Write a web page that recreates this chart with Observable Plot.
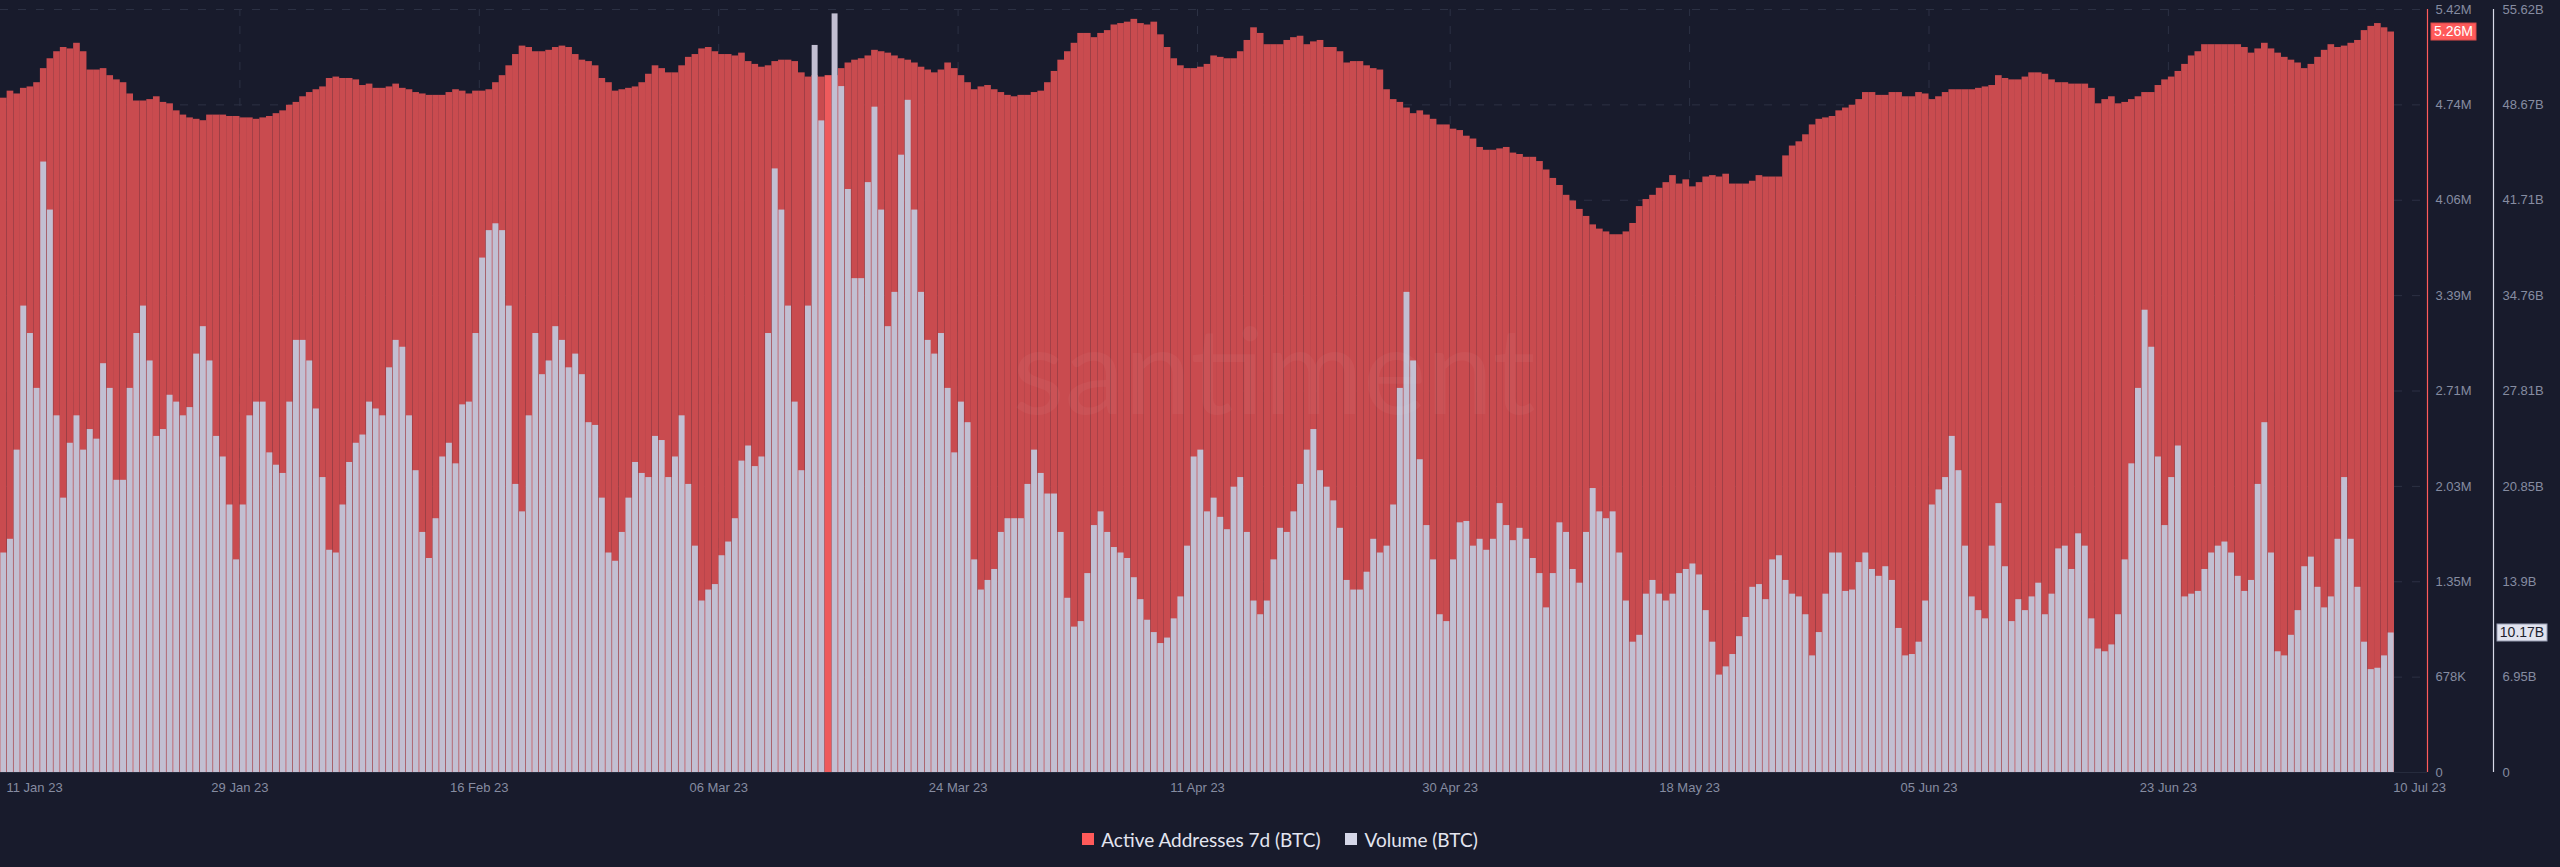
<!DOCTYPE html>
<html><head><meta charset="utf-8">
<script src="https://cdn.jsdelivr.net/npm/d3@7"></script>
<script src="https://cdn.jsdelivr.net/npm/@observablehq/plot@0.6"></script>
<style>
html,body{margin:0;padding:0;background:#181b2c;width:2560px;height:867px;overflow:hidden}
#chart svg{display:block}
#legend{display:flex;justify-content:center;align-items:center;margin-top:28px;height:22px;font-family:Lato,"Noto Sans",sans-serif;font-size:19px;color:#e3e5f0}
.item{display:flex;align-items:center}
.sw{width:12px;height:12px;display:inline-block;margin-right:7px}
</style></head><body>
<div id="chart"></div>
<div id="legend"></div>
<script>
// ---- data (12-hour buckets starting 11 Jan 2023) ----
const startDate = "2023-01-11T00:00:00Z";
const stepHours = 12;
// Active Addresses 7d (BTC), millions
const activeAddresses = [
4.79,4.84,4.82,4.86,4.87,4.90,5.00,5.07,5.12,5.15,
5.14,5.18,5.12,4.99,4.99,5.00,4.95,4.92,4.90,4.82,
4.77,4.77,4.78,4.80,4.76,4.75,4.70,4.67,4.65,4.64,
4.63,4.67,4.67,4.67,4.66,4.66,4.65,4.65,4.64,4.65,
4.66,4.68,4.70,4.74,4.76,4.80,4.83,4.85,4.87,4.93,
4.94,4.93,4.93,4.92,4.88,4.89,4.86,4.86,4.87,4.89,
4.86,4.85,4.83,4.82,4.81,4.81,4.81,4.83,4.85,4.84,
4.82,4.84,4.84,4.85,4.90,4.95,5.02,5.10,5.16,5.15,
5.12,5.12,5.13,5.15,5.16,5.15,5.10,5.06,5.05,5.02,
4.93,4.90,4.84,4.85,4.86,4.87,4.90,4.96,5.02,5.00,
4.97,4.97,5.02,5.08,5.10,5.14,5.15,5.12,5.10,5.10,
5.09,5.11,5.05,5.03,5.01,5.02,5.05,5.06,5.06,5.05,
4.97,4.94,4.95,4.94,4.95,4.95,5.00,5.04,5.06,5.07,
5.09,5.13,5.12,5.11,5.09,5.07,5.06,5.04,5.01,4.99,
4.97,4.99,5.04,5.00,4.95,4.90,4.85,4.87,4.88,4.85,
4.83,4.81,4.80,4.81,4.81,4.83,4.84,4.90,4.98,5.06,
5.12,5.18,5.25,5.25,5.22,5.25,5.27,5.31,5.32,5.33,
5.35,5.32,5.31,5.33,5.24,5.15,5.07,5.02,5.00,5.00,
5.01,5.03,5.09,5.08,5.07,5.07,5.12,5.20,5.29,5.25,
5.17,5.17,5.17,5.20,5.22,5.23,5.17,5.19,5.20,5.15,
5.15,5.12,5.04,5.05,5.05,5.02,5.00,4.99,4.85,4.78,
4.76,4.72,4.68,4.70,4.67,4.64,4.60,4.60,4.57,4.56,
4.52,4.50,4.44,4.42,4.42,4.43,4.44,4.40,4.39,4.37,
4.37,4.34,4.28,4.22,4.17,4.10,4.06,4.00,3.95,3.89,
3.86,3.84,3.82,3.82,3.84,3.90,4.02,4.07,4.10,4.15,
4.19,4.24,4.18,4.21,4.16,4.19,4.23,4.24,4.23,4.25,
4.18,4.18,4.18,4.20,4.24,4.23,4.23,4.23,4.38,4.45,
4.48,4.53,4.60,4.64,4.65,4.66,4.70,4.72,4.74,4.78,
4.83,4.83,4.81,4.81,4.83,4.83,4.80,4.80,4.83,4.82,
4.78,4.80,4.83,4.85,4.85,4.85,4.85,4.86,4.87,4.88,
4.95,4.93,4.92,4.92,4.94,4.97,4.97,4.96,4.92,4.90,
4.90,4.89,4.89,4.89,4.86,4.75,4.78,4.80,4.75,4.76,
4.78,4.80,4.83,4.83,4.88,4.92,4.94,4.98,5.03,5.09,
5.12,5.17,5.17,5.17,5.17,5.17,5.17,5.15,5.11,5.14,
5.18,5.14,5.11,5.08,5.06,5.04,5.00,5.03,5.08,5.13,
5.17,5.15,5.16,5.18,5.20,5.27,5.30,5.32,5.29,5.26
];
// Volume (BTC), billions USD (null = no data)
const volume = [
16.0,17.0,23.5,34.0,32.0,28.0,44.5,41.0,26.0,20.0,
24.0,26.0,23.5,25.0,24.3,29.8,28.0,21.3,21.3,28.0,
32.0,34.0,30.0,24.5,25.0,27.5,27.0,26.0,26.6,30.5,
32.5,30.0,24.5,23.0,19.5,15.5,19.5,26.0,27.0,27.0,
23.3,22.4,21.8,27.0,31.5,31.5,30.0,26.5,21.5,16.2,
16.0,19.5,22.6,24.0,24.6,27.0,26.5,26.0,29.5,31.5,
31.0,26.0,22.0,17.5,15.6,18.5,23.0,24.0,22.5,26.8,
27.0,32.0,37.5,39.5,40.0,39.5,34.0,21.0,19.0,26.0,
32.0,29.0,30.0,32.5,31.5,29.5,30.5,29.0,25.5,25.3,
20.0,16.0,15.4,17.5,20.0,22.6,21.8,21.5,24.5,24.2,
21.5,23.0,26.0,21.0,16.5,12.5,13.3,13.7,15.8,16.8,
18.5,22.7,23.8,22.3,23.0,32.0,44.0,41.0,34.0,27.0,
22.0,34.0,53.0,47.5,null,55.3,50.0,42.5,36.0,36.0,
43.0,48.5,41.0,32.5,35.0,45.0,49.0,41.0,35.0,31.5,
30.5,32.0,28.0,23.3,27.0,25.5,15.5,13.3,14.0,14.8,
17.5,18.5,18.5,18.5,21.0,23.5,21.8,20.3,20.3,17.5,
12.7,10.6,11.0,14.5,18.0,19.0,17.5,16.4,16.0,15.6,
14.2,12.6,11.1,10.2,9.4,9.8,11.2,12.8,16.5,23.0,
23.5,19.0,20.0,18.6,17.7,20.8,21.5,17.5,12.5,11.5,
12.5,15.5,17.8,17.5,19.0,21.0,23.5,25.0,22.0,20.8,
19.8,17.8,14.0,13.3,13.3,14.6,17.0,16.0,16.5,19.5,
28.0,35.0,30.0,22.8,18.0,15.5,11.5,11.0,15.5,18.2,
18.3,16.5,17.0,16.2,17.0,19.6,18.0,16.9,17.8,17.0,
15.6,14.5,12.0,14.5,18.2,17.5,14.8,13.8,17.5,20.7,
19.0,18.5,19.0,16.0,12.5,9.5,10.0,13.0,14.0,13.0,
12.5,13.0,14.5,14.8,15.2,14.4,11.8,9.5,7.1,7.7,
8.6,9.9,11.3,13.5,13.7,12.6,15.5,15.8,14.0,13.0,
12.8,11.5,8.5,10.2,13.0,16.0,16.0,13.2,13.3,15.3,
16.0,14.8,14.3,15.0,14.0,10.5,8.5,8.6,9.5,12.5,
19.5,20.6,21.5,24.5,22.0,16.5,12.8,11.8,11.2,16.5,
19.6,15.0,11.0,12.6,11.8,12.8,13.8,11.5,13.0,16.3,
16.5,14.8,17.4,16.5,11.2,9.0,8.8,9.3,11.5,15.5,
22.5,28.0,33.7,31.0,23.0,18.0,21.5,23.8,12.8,13.0,
13.2,14.8,16.0,16.5,16.8,16.0,14.3,13.2,14.0,21.0,
25.5,16.0,8.8,8.5,10.0,11.8,15.0,15.7,13.5,12.0,
12.8,17.0,21.5,17.0,13.5,9.5,7.5,7.6,8.5,10.17
];
// axes
const xTickDates = ["2023-01-11","2023-01-29","2023-02-16","2023-03-06","2023-03-24","2023-04-11","2023-04-30","2023-05-18","2023-06-05","2023-06-23","2023-07-10"];
const xTickLabels = ["11 Jan 23","29 Jan 23","16 Feb 23","06 Mar 23","24 Mar 23","11 Apr 23","30 Apr 23","18 May 23","05 Jun 23","23 Jun 23","10 Jul 23"];
const aaMax = 5.42;      // millions
const volMax = 55.62;    // billions
const aaTickLabels = ["0","678K","1.35M","2.03M","2.71M","3.39M","4.06M","4.74M","5.42M"];
const volTickLabels = ["0","6.95B","13.9B","20.85B","27.81B","34.76B","41.71B","48.67B","55.62B"];
const lastAALabel = "5.26M";
const lastVolLabel = "10.17B";
const seriesNames = ["Active Addresses 7d (BTC)", "Volume (BTC)"];
const watermark = "santiment";

// ---- layout ----
const W = 2560, H = 800, mL = 0, mR = 133, mT = 9, mB = 28;
const pxPerDay = 13.3;
const RED = "#c94b4f", RED_HI = "#ee5a5c", VOL = "#c2bfd2", GRID = "#2c3144", TICK = "#868ca1";
const t0 = new Date(startDate);
const stepMs = stepHours * 3600e3;
const xEnd = new Date(+t0 + (W - mL - mR) / pxPerDay * 864e5);
const ratio = aaMax / volMax;

const rows = activeAddresses.map((v, i) => ({
  t: new Date(+t0 + i * stepMs),
  t2: new Date(+t0 + (i + 1) * stepMs),
  aa: v,
  vol: volume[i]
}));
const tickVals = d3.range(aaTickLabels.length).map(i => aaMax * i / (aaTickLabels.length - 1));
const xTicks = xTickDates.map(s => new Date(s + "T00:00:00Z"));
const font = "'Liberation Sans', Arial, sans-serif";

const plot = Plot.plot({
  width: W, height: H,
  marginLeft: mL, marginRight: mR, marginTop: mT, marginBottom: mB,
  style: {background: "transparent", overflow: "visible", fontFamily: font},
  x: {type: "utc", domain: [t0, xEnd], axis: null},
  y: {domain: [0, aaMax], axis: null},
  marks: [
    Plot.ruleY(tickVals.slice(1), {stroke: GRID, strokeDasharray: "8,10"}),
    Plot.ruleX(xTicks.slice(1, 10), {y1: 0, y2: aaMax, stroke: GRID, strokeDasharray: "8,10"}),
    Plot.rectY(rows, {x1: "t", x2: "t2", y: "aa", fill: d => d.vol == null ? RED_HI : RED}),
    Plot.rectY(rows.filter(d => d.vol != null), {x1: "t", x2: "t2", y: d => d.vol * ratio, fill: VOL, insetLeft: 0.35, insetRight: 0.35}),
    Plot.text([watermark], {frameAnchor: "middle", dx: 60, dy: -15, fontSize: 120, fill: "#ffffff", fillOpacity: 0.045, fontFamily: "Lato, sans-serif"}),
    Plot.ruleY([0], {stroke: "#262b3d"}),
    Plot.ruleX([xEnd], {y1: 0, y2: aaMax, stroke: "#ff5b5b", strokeWidth: 1.2}),
    Plot.ruleX([xEnd], {y1: 0, y2: aaMax, stroke: "#d8dae8", strokeWidth: 1.2, dx: 66}),
    Plot.text(tickVals, {x: () => xEnd, y: d => d, text: (d, i) => aaTickLabels[i], dx: 8, textAnchor: "start", fill: TICK, fontSize: 13}),
    Plot.text(tickVals, {x: () => xEnd, y: d => d, text: (d, i) => volTickLabels[i], dx: 75, textAnchor: "start", fill: TICK, fontSize: 13}),
    Plot.text(xTicks.slice(0, 1), {x: d => d, y: () => 0, dy: 15, dx: 6, text: () => xTickLabels[0], textAnchor: "start", fill: TICK, fontSize: 13}),
    Plot.text(xTicks.slice(1, 10), {x: d => d, y: () => 0, dy: 15, text: (d, i) => xTickLabels[i + 1], fill: TICK, fontSize: 13}),
    Plot.text(xTicks.slice(10), {x: d => d, y: () => 0, dy: 15, dx: 25, text: () => xTickLabels[10], fill: TICK, fontSize: 13})
  ]
});
document.getElementById("chart").appendChild(plot);

// value badges on the right axes, positioned with the plot's scales
const sx = plot.scale("x"), sy = plot.scale("y");
const xr = sx.apply(xEnd);
const svg = d3.select(plot);
function badge(x, w, yv, label, bg, border, color) {
  const y = sy.apply(yv);
  const g = svg.append("g");
  g.append("rect").attr("x", x).attr("y", y - 8.5).attr("width", w).attr("height", 17)
    .attr("fill", bg).attr("stroke", border).attr("stroke-width", 1);
  g.append("text").attr("x", x + w / 2).attr("y", y).attr("dy", "0.35em")
    .attr("text-anchor", "middle").attr("fill", color).attr("font-size", 14)
    .attr("font-family", font).text(label);
}
badge(xr + 4, 45, activeAddresses[activeAddresses.length - 1], lastAALabel, "#ff5a5a", "#d94a4a", "#ffffff");
badge(xr + 70, 50, volume[volume.length - 1] * ratio, lastVolLabel, "#e1e3ef", "#9aa0b5", "#1b1e2d");

// legend
const legend = d3.select("#legend");
[[seriesNames[0], "#ff5a5a"], [seriesNames[1], "#d5d7e8"]].forEach(([name, c], i) => {
  const it = legend.append("div").attr("class", "item").style("margin-left", i ? "25px" : "0");
  it.append("span").attr("class", "sw").style("background", c);
  it.append("span").text(name);
});
</script>
</body></html>
